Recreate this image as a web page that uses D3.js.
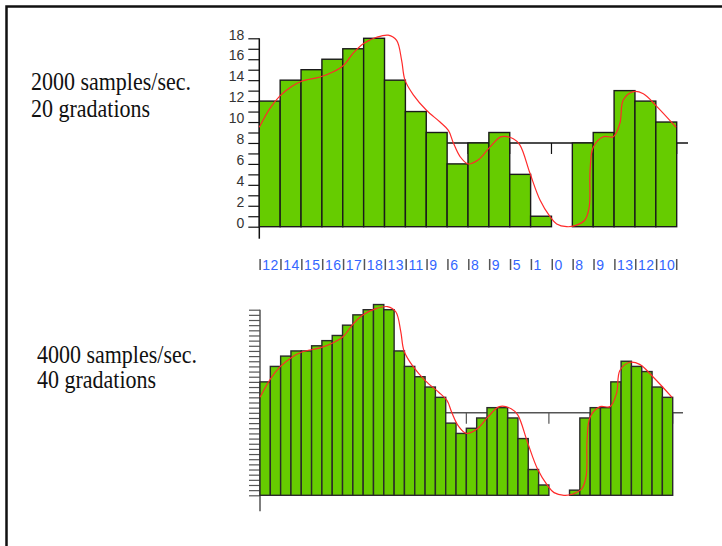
<!DOCTYPE html>
<html>
<head>
<meta charset="utf-8">
<script src="https://cdn.jsdelivr.net/npm/d3@7"></script>
<style>
  body { margin: 0; background: #fff; }
  svg { display: block; }
</style>
</head>
<body>
<div id="chart"></div>
<script>
"use strict";

// == DATA ==
// 20 gradations, one bar per sample
var topValues = [12, 14, 15, 16, 17, 18, 14, 11, 9, 6, 8, 9, 5, 1, 0, 8, 9, 13, 12, 10];
var topLabels = ["12", "14", "15", "16", "17", "18", "13", "11", "9", "6", "8", "9", "5", "1", "0", "8", "9", "13", "12", "10"];
var topTicks = d3.range(0, 19);

// 40 gradations, twice as many samples
var bottomValues = [22, 25, 27, 28, 28, 29, 30, 31, 33, 35, 36, 37, 36, 28, 25, 23, 21, 19, 14, 12,
                    13, 15, 17, 17, 15, 11, 5, 2, 0, 0, 1, 15, 17, 17, 22, 26, 25, 24, 21, 19];
var bottomTicks = d3.range(0, 37);

// the original (analog) signal, time in top-sample units, level in 20-gradation units
var signalT = [0, 0.51, 0.99, 1.55, 2.03, 2.91, 3.55, 4.03, 4.51, 5.0, 5.62, 6.18, 6.58, 6.82, 6.98,
               7.38, 8.02, 8.66, 9.06, 9.30, 9.62, 10.0, 10.5, 11.05, 11.6, 12.17, 12.49, 12.97,
               13.45, 13.93, 14.25, 14.73, 15.13, 15.6, 15.81, 15.85, 16.0, 16.48, 16.96, 17.28,
               17.44, 17.92, 18.4, 19.04, 19.97];
var signalV = [9.5, 11.3, 12.5, 13.4, 13.9, 14.3, 14.8, 15.4, 16.6, 17.5, 18.1, 18.3, 17.8, 15.9, 14.0,
               12.6, 11.1, 10.0, 9.2, 8.0, 6.7, 6.0, 6.4, 7.6, 8.6, 8.4, 7.8, 5.1,
               2.55, 0.96, 0.26, 0.0, 0.1, 0.64, 1.9, 5.4, 7.6, 8.6, 8.6, 9.9,
               12.1, 12.9, 12.7, 11.5, 9.5];

var captions = [
  { lines: ["2000 samples/sec.", "20 gradations"], x: 31, y: [90, 117] },
  { lines: ["4000 samples/sec.", "40 gradations"], x: 37, y: [363, 388] }
];

// == BOILERPLATE ==
var width = 722, height = 546;

var svg = d3.select("#chart")
  .append("svg")
  .attr("width", width)
  .attr("height", height);

// frame (runs off the right and bottom edges)
svg.append("rect")
  .attr("x", 6.5).attr("y", 6.5)
  .attr("width", 800).attr("height", 800)
  .attr("fill", "none")
  .attr("stroke", "#111")
  .attr("stroke-width", 2.5);

var signal = signalT.map(function (t, i) { return { t: t, v: signalV[i] }; });

// == CAPTIONS ==
captions.forEach(function (c) {
  c.lines.forEach(function (line, i) {
    svg.append("text")
      .attr("transform", "translate(" + c.x + "," + c.y[i] + ") scale(1,1.15)")
      .attr("font-family", "Liberation Serif, Times New Roman, serif")
      .attr("font-size", 22)
      .attr("fill", "#111")
      .text(line);
  });
});

// == ONE PANEL ==
function panel(opts) {
  var g = svg.append("g");
  var n = opts.values.length;

  var x = d3.scaleLinear().domain([0, n]).range([opts.left, opts.right]);
  var y = d3.scaleLinear().domain([0, opts.maxTick]).range([opts.base, opts.top]);
  var st = d3.scaleLinear().domain([0, 20]).range([opts.left, opts.right]);
  var sv = d3.scaleLinear().domain([0, opts.maxTick / opts.levelScale]).range([opts.base, opts.top]);

  // y axis
  var axis = d3.axisLeft(y)
    .tickValues(opts.ticks)
    .tickSize(11)
    .tickSizeOuter(0)
    .tickPadding(4)
    .tickFormat(function (d) { return opts.labelled && d % 2 === 0 ? d : ""; });

  var ax = g.append("g")
    .attr("transform", "translate(" + opts.left + ",0)")
    .call(axis);
  ax.select(".domain").remove();
  ax.selectAll(".tick line").attr("stroke", opts.axisColor).attr("stroke-width", 1.2);
  ax.selectAll(".tick text")
    .attr("font-family", "Liberation Sans, Arial, sans-serif")
    .attr("font-size", 14)
    .attr("fill", "#333")
    .attr("dy", "0.05em");

  g.append("line")
    .attr("x1", opts.left).attr("x2", opts.left)
    .attr("y1", y(opts.maxTick)).attr("y2", opts.base + opts.below)
    .attr("stroke", opts.axisColor).attr("stroke-width", 1.5);

  // time axis at the mid level
  var mid = y(opts.midLevel);
  g.append("line")
    .attr("x1", opts.left).attr("x2", opts.lineEnd)
    .attr("y1", mid).attr("y2", mid)
    .attr("stroke", opts.axisColor).attr("stroke-width", 1.5);

  g.selectAll(".ttick")
    .data(d3.range(0, n + 1, opts.timeStep))
    .enter()
    .append("line")
    .attr("x1", function (d) { return x(d); })
    .attr("x2", function (d) { return x(d); })
    .attr("y1", mid).attr("y2", mid + 11)
    .attr("stroke", opts.axisColor).attr("stroke-width", 1.2);

  // bars (zero-level samples draw nothing)
  g.selectAll(".bar")
    .data(opts.values.map(function (v, i) { return { i: i, v: v }; })
      .filter(function (d) { return d.v > 0; }))
    .enter()
    .append("rect")
    .attr("x", function (d) { return x(d.i); })
    .attr("y", function (d) { return y(d.v); })
    .attr("width", function (d) { return x(d.i + 1) - x(d.i); })
    .attr("height", function (d) { return y(0) - y(d.v); })
    .attr("fill", "#66cc00")
    .attr("stroke", opts.barStroke)
    .attr("stroke-width", 1.4);

  // analog signal
  var line = d3.line()
    .x(function (d) { return st(d.t); })
    .y(function (d) { return sv(d.v); })
    .curve(d3.curveCatmullRom.alpha(0.5));

  g.append("path")
    .datum(signal)
    .attr("d", line)
    .attr("fill", "none")
    .attr("stroke", "#ff2a2a")
    .attr("stroke-width", 1.2);

  return x;
}

var xTop = panel({
  values: topValues, ticks: topTicks, maxTick: 18, levelScale: 1, labelled: true,
  left: 259.3, right: 676.7, base: 226.7, top: 38.3, below: 12,
  midLevel: 8, lineEnd: 688, timeStep: 2,
  axisColor: "#111", barStroke: "#1a1a1a"
});

panel({
  values: bottomValues, ticks: bottomTicks, maxTick: 36, levelScale: 2, labelled: false,
  left: 260, right: 672.7, base: 495.3, top: 309.7, below: 16,
  midLevel: 16, lineEnd: 683, timeStep: 4,
  axisColor: "#555", barStroke: "#2a2a2a"
});

// == SAMPLE VALUE ROW ==
var row = svg.append("g");
topLabels.forEach(function (lab, i) {
  row.append("line")
    .attr("x1", xTop(i) + 0.8).attr("x2", xTop(i) + 0.8)
    .attr("y1", 259).attr("y2", 270)
    .attr("stroke", "#555").attr("stroke-width", 1.5);
  row.append("text")
    .attr("x", xTop(i) + 3)
    .attr("y", 270)
    .attr("font-family", "Liberation Sans, Arial, sans-serif")
    .attr("font-size", 14)
    .attr("letter-spacing", 0.5)
    .attr("fill", "#3366ff")
    .text(lab);
});
row.append("line")
  .attr("x1", xTop(topLabels.length)).attr("x2", xTop(topLabels.length))
  .attr("y1", 259).attr("y2", 270)
  .attr("stroke", "#555").attr("stroke-width", 1.5);
</script>
</body>
</html>
